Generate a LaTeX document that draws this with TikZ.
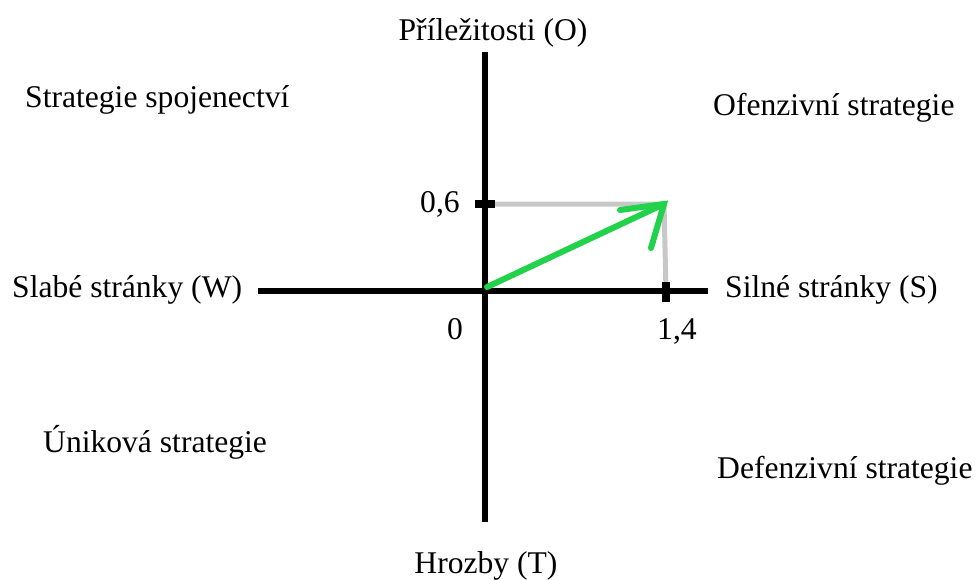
\documentclass[tikz,border=0pt]{standalone}
\usepackage{fontspec}
\setmainfont{Liberation Serif}
\usetikzlibrary{calc}
\definecolor{Mark}{HTML}{22D24A}
\definecolor{Guide}{HTML}{C8C8C8}

\begin{document}
\begin{tikzpicture}[x=1pt,y=-1pt,every node/.style={font=\fontsize{31.6}{36}\selectfont,inner sep=0pt}]
    \useasboundingbox (0,0) rectangle (978,579);
    % axes
    \coordinate (o) at (485,291);
    \coordinate (top) at (485,52);\coordinate (bot) at (485,522);
    \coordinate (lft) at (258,291);\coordinate (rgt) at (708,291);
    \coordinate (y6) at (485,204);\coordinate (x4) at (666,291);
    \coordinate (tip) at (664,204);
    \draw[Guide,line width=5pt] (y6)--(tip)--(x4);
    \draw[line width=5.5pt] (top)--(bot);\draw[line width=5.5pt] (lft)--(rgt);
    \draw[line width=7.5pt] ($(y6)+(-10,0)$)--($(y6)+(10,0)$);
    \draw[line width=7.5pt] ($(x4)+(0,-9)$)--($(x4)+(0,11)$);
    % vector
    \draw[Mark,line width=6pt,line cap=round] ($(o)+(2,-4)$)--(tip);
    \draw[Mark,line width=6pt,line cap=round] ($(tip)+(-44,6)$)--(tip)--($(tip)+(-13,44)$);
    % labels
    \node[anchor=base] (opp) at (493,40) {Příležitosti (O)};
    \node[anchor=base] (thr) at (486,573) {Hrozby (T)};
    \node[anchor=base west] (wk) at (12,297) {Slabé stránky (W)};
    \node[anchor=base west] (st) at (725,297) {Silné stránky (S)};
    \node[anchor=base west] (v6) at (420,212) {0,6};
    \node[anchor=base west] (v0) at (447,339) {0};
    \node[anchor=base west] (v4) at (657,339) {1,4};
    \node[anchor=base west] (so) at (25,107) {Strategie spojenectví};
    \node[anchor=base west] (of) at (713,115) {Ofenzivní strategie};
    \node[anchor=base west] (wt) at (43,452) {Úniková strategie};
    \node[anchor=base west] (df) at (717,478) {Defenzivní strategie};
  \end{tikzpicture}
\end{document}
